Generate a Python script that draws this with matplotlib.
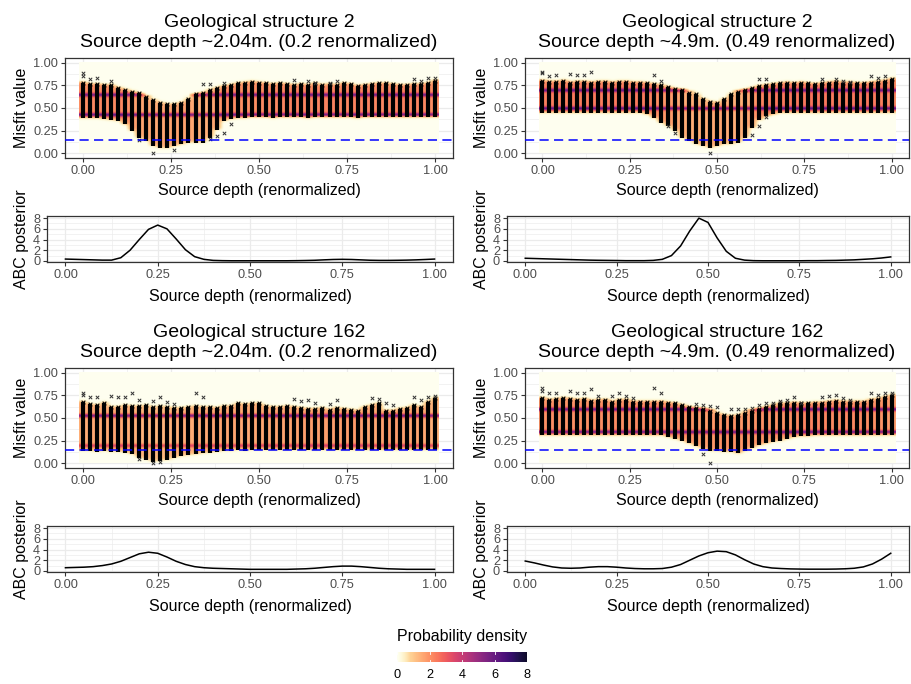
import numpy as np
import matplotlib
matplotlib.use("Agg")
import matplotlib.pyplot as plt
from matplotlib.colors import Normalize, ListedColormap

plt.rcParams['font.family'] = ['Liberation Sans', 'DejaVu Sans']

# ---------------- data ----------------
depth = np.round(np.arange(51) * 0.02, 2)          # sampled source depths (renormalized)
abc_x = np.round(np.arange(41) * 0.025, 3)          # x grid of ABC posterior curves

titles = [
    "Geological structure 2\nSource depth ~2.04m. (0.2 renormalized)",
    "Geological structure 2\nSource depth ~4.9m. (0.49 renormalized)",
    "Geological structure 162\nSource depth ~2.04m. (0.2 renormalized)",
    "Geological structure 162\nSource depth ~4.9m. (0.49 renormalized)",
]

threshold = 0.15

# panel 1 : structure 2, depth 0.2
p1_lo = [.39, .39, .39, .38, .37, .36, .32, .25, .17, .14, .08, .06, .06, .08, .10, .12, .12, .12,
         .17, .26, .36, .38, .39,
         .39, .40, .40, .40, .39, .40, .40, .40, .40, .39, .40, .40, .40, .40, .40, .40, .39, .40,
         .40, .40, .40, .40, .40, .40, .40, .40, .40, .40]
p1_hi = [.78, .76, .76, .75, .75, .72, .70, .68, .66, .62, .59, .56, .54, .54, .56, .60, .65, .67,
         .70, .72, .74, .75, .77,
         .78, .79, .78, .77, .76, .77, .76, .75, .76, .75, .77, .75, .76, .75, .77, .76, .74, .75,
         .76, .77, .77, .76, .75, .75, .76, .76, .77, .80]
p1_bands = [0.42, 0.64]
p1_band_w = [4.0, 3.6]
p1_out_x = [0.00, 0.00, 0.02, 0.04, 0.08, 0.34, 0.36, 0.40, 0.60, 0.64, 0.66, 0.70, 0.72, 0.94,
            0.96, 0.98, 1.00, 0.20, 0.26, 0.36, 0.38, 0.40, 0.42, 0.16]
p1_out_y = [0.85, 0.88, 0.82, 0.83, 0.80, 0.76, 0.76, 0.77, 0.81, 0.80, 0.77, 0.78, 0.80, 0.82,
            0.80, 0.83, 0.83, 0.01, 0.04, 0.16, 0.19, 0.23, 0.32, 0.15]
p1_abc = [0.35, 0.30, 0.25, 0.20, 0.15, 0.15, 0.60, 2.0, 4.0, 5.9, 6.7, 6.0, 4.1, 2.1, 0.8, 0.3,
          0.10, 0.05, 0.03, 0.03, 0.03, 0.03, 0.03, 0.03, 0.03, 0.05, 0.08, 0.12, 0.20, 0.27, 0.30,
          0.27, 0.20, 0.13, 0.10, 0.10, 0.12, 0.15, 0.20, 0.27, 0.35]

# panel 2 : structure 2, depth 0.49
p2_lo = [.45] * 15 + [.43, .39, .34, .30, .25, .17, .14, .10, .08, .06, .08, .10, .10, .12, .17,
                      .28, .37, .41, .43] + [.45] * 17
p2_hi = [.80, .79, .79, .80, .78, .79, .79, .78, .79, .79, .78, .79, .79, .78, .78,
         .77, .76, .75, .73, .71, .70, .67, .65, .60, .57, .56, .60, .65, .68, .70, .72, .74, .75,
         .76, .77, .78, .77, .78, .77, .76, .77, .78, .79, .78, .78, .77, .77, .78, .79, .80, .82]
p2_bands = [0.49, 0.69]
p2_band_w = [4.0, 3.6]
p2_out_x = [0.00, 0.00, 0.02, 0.04, 0.08, 0.10, 0.12, 0.14, 0.32, 0.34, 0.62, 0.64, 0.80, 0.84,
            0.86, 0.88, 0.94, 0.96, 0.98, 0.48, 0.38, 0.36, 0.60, 0.62, 0.64]
p2_out_y = [0.88, 0.90, 0.85, 0.86, 0.87, 0.86, 0.86, 0.90, 0.86, 0.80, 0.82, 0.82, 0.82, 0.82,
            0.80, 0.79, 0.85, 0.83, 0.85, 0.01, 0.23, 0.30, 0.20, 0.30, 0.40]
p2_abc = [0.50, 0.45, 0.40, 0.35, 0.30, 0.25, 0.20, 0.15, 0.12, 0.10, 0.08, 0.05, 0.05, 0.05,
          0.10, 0.30, 1.0, 2.8, 5.6, 8.0, 7.2, 4.3, 1.8, 0.5, 0.15, 0.05, 0.03, 0.03, 0.03, 0.03,
          0.03, 0.05, 0.05, 0.08, 0.10, 0.15, 0.20, 0.30, 0.40, 0.55, 0.75]

# panel 3 : structure 162, depth 0.2
p3_lo = [.14, .14, .13, .14, .13, .13, .12, .10, .06, .04, .02, .03, .04, .06, .08, .09, .10,
         .11, .12, .13] + [.14, .14, .15, .14] + [.15] * 27
p3_hi = [.68, .65, .64, .67, .62, .62, .64, .63, .63, .64, .62, .63, .62, .61, .61, .62, .63,
         .62, .62, .61, .63, .63, .66, .65, .66, .66, .63, .62, .62, .63, .62, .61, .60, .60,
         .61, .59, .61, .60, .59, .58, .62, .64, .66, .58, .58, .60, .61, .64, .62, .68, .72]
p3_bands = [0.19, 0.52]
p3_band_w = [2.0, 4.0]
p3_out_x = [0.00, 0.00, 0.02, 0.04, 0.08, 0.10, 0.12, 0.14, 0.16, 0.20, 0.22, 0.24, 0.26, 0.32,
            0.34, 0.60, 0.62, 0.64, 0.66, 0.70, 0.72, 0.82, 0.84, 0.86, 0.88, 0.94, 0.96, 0.98,
            1.00, 0.20, 0.22, 0.16]
p3_out_y = [0.78, 0.75, 0.73, 0.73, 0.74, 0.73, 0.73, 0.78, 0.70, 0.69, 0.73, 0.68, 0.65, 0.78,
            0.73, 0.71, 0.69, 0.70, 0.66, 0.65, 0.70, 0.72, 0.71, 0.66, 0.64, 0.73, 0.70, 0.73,
            0.74, 0.00, 0.02, 0.05]
p3_abc = [0.60, 0.65, 0.70, 0.80, 1.0, 1.3, 1.8, 2.5, 3.2, 3.5, 3.3, 2.6, 1.8, 1.2, 0.8, 0.6,
          0.5, 0.45, 0.4, 0.35, 0.3, 0.3, 0.3, 0.3, 0.3, 0.35, 0.4, 0.5, 0.65, 0.8, 0.9, 0.9,
          0.8, 0.65, 0.5, 0.4, 0.35, 0.3, 0.3, 0.3, 0.3]

# panel 4 : structure 162, depth 0.49
p4_lo = [.31] * 18 + [.29, .27, .25, .22, .19, .16, .14, .14, .13, .13, .11, .14, .17, .20, .22,
                      .24, .25, .27, .29] + [.30, .30] + [.31] * 12
p4_hi = [.72, .70, .71, .72, .71, .70, .71, .69, .70, .70, .68, .70, .70, .68, .68, .68, .68,
         .68, .67, .66, .64, .62, .61, .60, .58, .55, .53, .52, .53, .56, .58, .60, .62, .64,
         .66, .66, .67, .66, .66, .67, .67, .68, .69, .68, .68, .68, .68, .70, .71, .73, .75]
p4_bands = [0.34, 0.59]
p4_band_w = [3.8, 3.8]
p4_out_x = [0.00, 0.00, 0.02, 0.04, 0.08, 0.10, 0.12, 0.14, 0.16, 0.20, 0.22, 0.24, 0.26, 0.32,
            0.34, 0.44, 0.46, 0.48, 0.50, 0.54, 0.56, 0.58, 0.60, 0.62, 0.64, 0.66, 0.68, 0.70,
            0.72, 0.74, 0.80, 0.82, 0.84, 0.86, 0.88, 0.94, 0.96, 0.98, 1.00, 0.48, 0.46]
p4_out_y = [0.83, 0.80, 0.78, 0.78, 0.80, 0.78, 0.78, 0.82, 0.74, 0.74, 0.78, 0.74, 0.72, 0.83,
            0.78, 0.65, 0.64, 0.63, 0.62, 0.60, 0.60, 0.60, 0.61, 0.64, 0.67, 0.66, 0.69, 0.70,
            0.73, 0.67, 0.73, 0.74, 0.75, 0.72, 0.70, 0.77, 0.75, 0.77, 0.78, 0.01, 0.10]
p4_abc = [1.85, 1.5, 1.1, 0.75, 0.55, 0.5, 0.55, 0.7, 0.8, 0.8, 0.7, 0.55, 0.45, 0.4, 0.4, 0.45,
          0.7, 1.2, 2.0, 2.8, 3.4, 3.7, 3.6, 3.0, 2.1, 1.3, 0.8, 0.55, 0.45, 0.38, 0.35, 0.33,
          0.33, 0.33, 0.35, 0.4, 0.5, 0.75, 1.3, 2.2, 3.3]

panels = [
    (p1_lo, p1_hi, p1_bands, p1_band_w, p1_out_x, p1_out_y, p1_abc),
    (p2_lo, p2_hi, p2_bands, p2_band_w, p2_out_x, p2_out_y, p2_abc),
    (p3_lo, p3_hi, p3_bands, p3_band_w, p3_out_x, p3_out_y, p3_abc),
    (p4_lo, p4_hi, p4_bands, p4_band_w, p4_out_x, p4_out_y, p4_abc),
]

# ---------------- colour map (reversed magma, pale low end) ----------------
_t = np.linspace(0, 1, 256)
_base = plt.get_cmap('magma')(1.0 - _t * 0.92)
_w = np.clip(1 - _t / 0.10, 0, 1)[:, None] * 0.75
_base[:, :3] = _base[:, :3] * (1 - _w) + _w
cmap = ListedColormap(_base)
norm = Normalize(0, 8)

# ---------------- figure ----------------
W, H = 911, 684
fig = plt.figure(figsize=(W / 100, H / 100), dpi=100)


def px_axes(l, t, r, b):
    return fig.add_axes([l / W, 1 - b / H, (r - l) / W, (b - t) / H])


def style(ax, xmaj, xmin, ymaj, ymin):
    for sp in ax.spines.values():
        sp.set_color('#333333')
        sp.set_linewidth(0.9)
    ax.set_xticks(xmaj)
    ax.set_xticks(xmin, minor=True)
    ax.set_yticks(ymaj)
    ax.set_yticks(ymin, minor=True)
    ax.set_axisbelow(True)
    ax.grid(which='major', color='#EBEBEB', lw=0.9, zorder=0)
    ax.grid(which='minor', color='#EBEBEB', lw=0.45, zorder=0)
    ax.tick_params(which='major', length=2.75, width=0.8, color='#333333',
                   labelcolor='#4D4D4D', labelsize=9.2, pad=2.2)
    ax.tick_params(which='minor', length=0)


def density_field(lo, hi, bands, band_w):
    lo = np.asarray(lo)
    hi = np.asarray(hi)
    gy = np.linspace(0, 1, 301)
    s = 0.02
    mask = 0.5 * (np.tanh((gy[:, None] - lo[None, :]) / s) - np.tanh((gy[:, None] - hi[None, :]) / s))
    base = 0.8 / (hi - lo)[None, :] * mask
    peaks = np.zeros_like(base)
    for b, w in zip(bands, band_w):
        peaks += w * np.exp(-0.5 * ((gy[:, None] - b) / 0.014) ** 2)
    prof = base + peaks * mask
    gx = np.linspace(-0.01, 1.01, 205)
    return np.array([np.interp(gx, depth, row) for row in prof])


xmaj = [0, 0.25, 0.5, 0.75, 1.0]
xmin = [0.125, 0.375, 0.625, 0.875]
xfmt = ['0.00', '0.25', '0.50', '0.75', '1.00']

lefts = [(65, 47, 453), (525, 507, 909)]
tops = [0, 310]
im = None
for k, (lo, hi, bands, bw, ox, oy, abc) in enumerate(panels):
    col = k % 2
    row = k // 2
    lm, la, r = lefts[col]
    dt = tops[row]

    # ---- misfit panel ----
    ax = px_axes(lm, 58 + dt, r, 158 + dt)
    style(ax, xmaj, xmin, [0, 0.25, 0.5, 0.75, 1.0], [0.125, 0.375, 0.625, 0.875])
    img = density_field(lo, hi, bands, bw)
    im = ax.imshow(img, extent=[-0.01, 1.01, 0, 1], origin='lower', cmap=cmap, norm=norm,
                   aspect='auto', interpolation='bilinear', zorder=1)
    ax.vlines(depth, lo, hi, colors='black', lw=3.0, zorder=2)
    ax.scatter(depth, hi, marker='x', s=7, c='black', lw=0.8, zorder=3)
    ax.scatter(ox, oy, marker='x', s=6, c='#333333', lw=0.7, zorder=3)
    ax.axhline(threshold, color='#0000FF', lw=1.1, ls=(0, (6, 3.5)), zorder=4)
    ax.set_xlim(-0.05, 1.05)
    ax.set_ylim(-0.05, 1.05)
    ax.set_xticklabels(xfmt)
    ax.set_yticklabels(['0.00', '0.25', '0.50', '0.75', '1.00'])
    ax.set_xlabel('Source depth (renormalized)', fontsize=11.5, labelpad=4.5)
    ax.set_ylabel('Misfit value', fontsize=11.5, labelpad=3)
    ax.set_title(titles[k], fontsize=14, pad=8, linespacing=1.2)

    # ---- ABC posterior panel ----
    ax2 = px_axes(la, 216 + dt, r, 262 + dt)
    style(ax2, xmaj, xmin, [0, 2, 4, 6, 8], [1, 3, 5, 7])
    ax2.plot(abc_x, abc, color='black', lw=1.1, zorder=3)
    ax2.set_xlim(-0.05, 1.05)
    ax2.set_ylim(-0.2, 8.4)
    ax2.set_xticklabels(xfmt)
    ax2.set_yticklabels(['0', '2', '4', '6', '8'])
    ax2.set_xlabel('Source depth (renormalized)', fontsize=11.5, labelpad=6)
    ax2.set_ylabel('ABC posterior', fontsize=11.5, labelpad=3)

# ---------------- colour bar legend ----------------
cax = px_axes(397, 652, 527, 662)
cb = fig.colorbar(im, cax=cax, orientation='horizontal', ticks=[0, 2, 4, 6, 8])
cb.outline.set_visible(False)
cax.tick_params(length=0, labelsize=9.2, labelcolor='black', pad=5)
for v in [0, 2, 4, 6, 8]:
    cax.plot([v, v], [0, 0.2], color='white', lw=0.6, transform=cax.get_xaxis_transform())
    cax.plot([v, v], [0.8, 1.0], color='white', lw=0.6, transform=cax.get_xaxis_transform())
fig.text(462 / W, 1 - 636 / H, 'Probability density', fontsize=11.5, ha='center', va='center')

fig.savefig('out.png', dpi=100)
